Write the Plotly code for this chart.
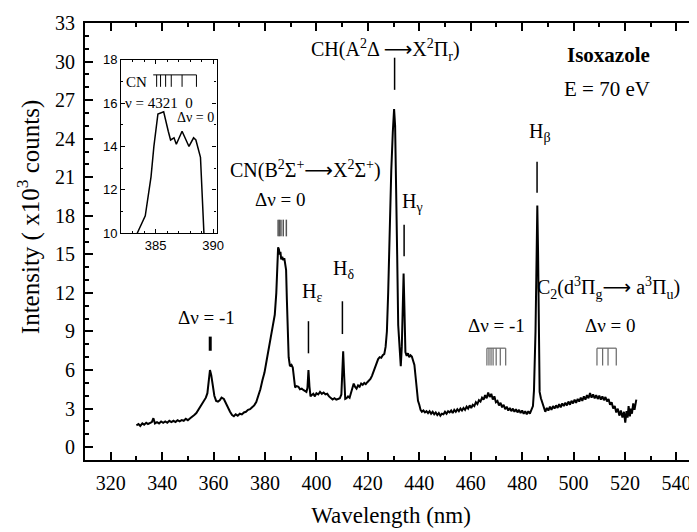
import plotly.graph_objects as go

# ---------------- data ----------------
wavelength = [
    330.0, 330.8, 331.5, 332.3, 333.0, 333.8, 334.5, 335.3, 336.0, 336.6, 337.2, 338.0, 338.8, 339.6,
    340.4, 341.2, 342.0, 342.8, 343.6, 344.4, 345.2, 346.0, 346.8, 347.6, 348.4, 349.2, 350.0, 350.9,
    351.7, 352.5, 353.3, 354.1, 354.9, 355.6, 356.3, 357.0, 357.6, 358.1, 358.6, 359.1, 359.7, 360.3,
    361.0, 361.7, 362.4, 363.1, 364.0, 364.8, 365.6, 366.4, 367.2, 367.9, 368.6, 369.4, 370.2, 371.0,
    371.8, 372.6, 373.4, 374.2, 375.0, 375.8, 376.6, 377.4, 378.2, 379.0, 379.8, 380.6, 381.4, 382.2,
    383.0, 383.8, 384.4, 384.8, 385.1, 385.4, 385.7, 386.0, 386.3, 386.7, 387.1, 387.5, 387.9, 388.2,
    388.5, 388.8, 389.2, 389.7, 390.3, 390.8, 391.3, 391.7, 392.3, 393.0, 393.6, 394.3, 394.9, 395.5,
    396.1, 396.5, 396.9, 397.3, 397.7, 398.2, 398.8, 399.4, 400.0, 400.7, 401.4, 402.1, 402.8, 403.5,
    404.2, 404.9, 405.6, 406.3, 407.0, 407.7, 408.4, 409.1, 409.7, 410.1, 410.4, 410.8, 411.2, 411.7,
    412.3, 412.9, 413.5, 414.0, 414.5, 415.0, 415.6, 416.2, 416.8, 417.4, 418.0, 418.6, 419.2, 419.8,
    420.4, 421.0, 421.6, 422.2, 422.8, 423.4, 424.0, 424.6, 425.2, 425.8, 426.4, 426.9, 427.4, 427.9,
    428.5, 429.1, 429.7, 430.2, 430.6, 431.0, 431.4, 431.8, 432.3, 432.8, 433.2, 433.6, 433.9, 434.2,
    434.6, 435.1, 435.6, 436.1, 436.6, 437.1, 437.6, 438.1, 438.6, 439.0, 439.5, 440.0, 440.5, 441.0,
    441.6, 442.2, 442.8, 443.4, 444.0, 444.6, 445.2, 445.8, 446.4, 447.0, 447.6, 448.2, 448.8, 449.4,
    450.0, 450.6, 451.2, 451.8, 452.4, 453.0, 453.6, 454.2, 454.8, 455.4, 456.0, 456.6, 457.2, 457.8,
    458.4, 459.0, 459.6, 460.2, 460.8, 461.4, 462.0, 462.6, 463.2, 463.8, 464.4, 465.0, 465.6, 466.2,
    466.8, 467.4, 468.0, 468.6, 469.2, 469.8, 470.4, 471.0, 471.6, 472.2, 472.8, 473.4, 474.0, 474.6,
    475.2, 475.8, 476.4, 477.0, 477.6, 478.2, 478.8, 479.4, 480.0, 480.6, 481.2, 481.8, 482.4, 483.0,
    483.6, 484.2, 484.6, 485.2, 485.6, 485.9, 486.2, 486.5, 486.8, 487.3, 487.9, 488.5, 489.0, 489.6,
    490.2, 490.8, 491.4, 492.0, 492.6, 493.2, 493.8, 494.4, 495.0, 495.6, 496.2, 496.8, 497.4, 498.0,
    498.6, 499.2, 499.8, 500.4, 501.0, 501.6, 502.2, 502.8, 503.4, 504.0, 504.6, 505.2, 505.8, 506.4,
    507.0, 507.6, 508.2, 508.8, 509.4, 510.0, 510.6, 511.2, 511.8, 512.4, 513.0, 513.6, 514.2, 514.8,
    515.4, 516.0, 516.6, 517.2, 517.8, 518.4, 519.0, 519.6, 520.1, 520.6, 521.0, 521.4, 521.9, 522.3,
    522.7, 523.2, 523.7, 524.4,
]
intensity = [
    1.70, 1.80, 1.65, 1.85, 1.75, 1.90, 1.80, 1.85, 1.95, 2.25, 1.85, 1.95, 1.85, 2.00,
    1.90, 2.00, 1.90, 2.05, 1.95, 2.05, 1.95, 2.10, 2.00, 2.10, 2.05, 2.20, 2.10, 2.25,
    2.35, 2.50, 2.65, 2.90, 3.20, 3.45, 3.60, 3.85, 4.20, 5.20, 6.00, 5.60, 4.60, 4.00,
    3.60, 3.55, 3.65, 3.85, 3.75, 3.40, 3.00, 2.75, 2.50, 2.40, 2.55, 2.45, 2.60, 2.55,
    2.70, 2.75, 2.90, 2.95, 3.10, 3.25, 3.50, 3.95, 4.50, 5.20, 5.80, 6.70, 7.50, 8.50,
    9.40, 10.30, 12.00, 14.00, 15.55, 15.40, 15.00, 15.20, 14.60, 14.80, 14.55, 14.70, 14.30, 13.80,
    11.50, 8.50, 7.00, 6.30, 6.40, 6.20, 5.20, 4.65, 4.75, 4.70, 4.50, 4.55, 4.45, 4.40,
    4.30, 4.60, 6.00, 4.70, 3.95, 4.05, 4.15, 3.95, 4.20, 4.10, 4.30, 4.15, 4.25, 4.10,
    4.15, 3.95, 3.85, 3.70, 3.80, 3.70, 3.75, 3.80, 4.10, 6.20, 7.45, 5.50, 3.75, 3.80,
    3.95, 3.85, 4.20, 4.60, 4.95, 4.70, 4.55, 4.80, 4.70, 4.95, 4.85, 5.00, 4.90, 5.05,
    5.15, 5.30, 5.55, 5.85, 6.20, 6.60, 6.85, 7.00, 6.95, 7.15, 7.25, 7.80, 9.00, 12.00,
    17.00, 21.50, 24.50, 26.30, 25.00, 21.00, 15.00, 9.50, 7.30, 6.30, 7.80, 11.50, 13.50, 11.00,
    7.40, 7.10, 7.30, 7.00, 7.15, 7.05, 6.80, 6.40, 5.40, 4.30, 3.60, 3.30, 2.90, 2.75,
    2.85, 2.70, 2.80, 2.65, 2.80, 2.60, 2.75, 2.55, 2.70, 2.50, 2.65, 2.45, 2.60, 2.55,
    2.75, 2.60, 2.80, 2.70, 2.85, 2.65, 2.90, 2.75, 2.95, 2.80, 3.00, 2.85, 3.05, 2.90,
    3.15, 3.00, 3.25, 3.05, 3.30, 3.20, 3.50, 3.35, 3.65, 3.55, 3.85, 3.70, 4.05, 3.80,
    4.25, 3.90, 4.15, 3.70, 3.95, 3.50, 3.60, 3.25, 3.45, 3.10, 3.30, 2.95, 3.15, 2.85,
    3.05, 2.80, 3.00, 2.75, 2.95, 2.70, 2.90, 2.65, 2.85, 2.60, 2.80, 2.55, 2.80, 2.60,
    2.90, 3.20, 4.40, 9.00, 14.50, 18.80, 15.00, 8.00, 4.30, 3.80, 3.40, 3.10, 2.75, 3.05,
    2.85, 3.15, 2.90, 3.20, 3.00, 3.25, 3.05, 3.35, 3.10, 3.40, 3.20, 3.45, 3.25, 3.55,
    3.30, 3.60, 3.40, 3.70, 3.45, 3.75, 3.55, 3.85, 3.60, 3.95, 3.70, 4.05, 3.80, 4.20,
    3.85, 4.10, 3.80, 4.05, 3.75, 4.00, 3.70, 3.95, 3.65, 3.90, 3.55, 3.75, 3.30, 3.50,
    3.00, 3.20, 2.70, 3.00, 2.45, 2.85, 2.30, 2.75, 1.90, 2.80, 2.30, 3.20, 2.40, 3.00,
    2.60, 3.40, 2.90, 3.70,
]

# inset (zoom on CN Δν = 0 band)
inset_wavelength = [383.4, 384.1, 384.6, 384.85, 385.2, 385.7, 386.1, 386.3, 386.6, 386.8,
                    387.3, 387.9, 388.3, 388.5, 388.9, 389.2]
inset_intensity = [10.0, 10.8, 12.6, 14.0, 15.5, 15.6, 14.7, 14.3, 14.4, 14.1,
                   14.7, 14.0, 14.4, 14.3, 13.5, 10.0]
inset_bandheads = [385.09, 385.43, 385.87, 386.36, 387.3, 388.55]

# axis ticks
x_ticks = [320, 340, 360, 380, 400, 420, 440, 460, 480, 500, 520, 540]
y_ticks = [0, 3, 6, 9, 12, 15, 18, 21, 24, 27, 30, 33]
inset_x_ticks = [385, 390]
inset_y_ticks = [10, 12, 14, 16, 18]

# line markers for assigned emissions: (wavelength, y_low, y_high, width)
line_markers = [
    (358.7, 7.5, 8.6, 3),     # CN Δν=-1
    (396.9, 7.3, 9.8, 1.5),   # Hε
    (410.1, 8.8, 11.35, 1.5), # Hδ
    (430.4, 27.8, 30.3, 1.5), # CH
    (434.1, 14.85, 17.3, 1.5),# Hγ
    (485.8, 19.8, 22.2, 1.5), # Hβ
]
cn_band_comb = [385.1, 385.6, 386.2, 387.1, 388.3]
c2_m1_comb = [466.3, 467.1, 467.9, 468.7, 469.9, 471.5, 473.6]
c2_0_comb = [509.1, 511.3, 513.4, 516.6]

SERIF = "Liberation Serif"
SANS = "Liberation Sans"
ARROW = '<span style="font-family:DejaVu Sans">⟶</span>'

fig = go.Figure()
fig.add_trace(go.Scatter(x=wavelength, y=intensity, mode="lines",
                         line=dict(color="black", width=2), showlegend=False))
fig.add_trace(go.Scatter(x=inset_wavelength, y=inset_intensity, mode="lines",
                         line=dict(color="black", width=1.5), showlegend=False,
                         xaxis="x2", yaxis="y2"))

shapes = []
for wl, y0, y1, w in line_markers:
    shapes.append(dict(type="line", xref="x", yref="y", x0=wl, x1=wl, y0=y0, y1=y1,
                       line=dict(color="black", width=w)))
for wl in cn_band_comb:
    shapes.append(dict(type="line", xref="x", yref="y", x0=wl, x1=wl, y0=16.4, y1=17.7,
                       line=dict(color="#555555", width=1.5)))
for comb in (c2_m1_comb, c2_0_comb):
    for wl in comb:
        shapes.append(dict(type="line", xref="x", yref="y", x0=wl, x1=wl, y0=6.35, y1=7.7,
                           line=dict(color="#666666", width=1.2)))
    shapes.append(dict(type="line", xref="x", yref="y", x0=comb[0], x1=comb[-1], y0=7.7, y1=7.7,
                       line=dict(color="#666666", width=1.2)))
for wl in inset_bandheads:
    shapes.append(dict(type="line", xref="x2", yref="y2", x0=wl, x1=wl, y0=16.75, y1=17.3,
                       line=dict(color="black", width=1)))
shapes.append(dict(type="line", xref="x2", yref="y2", x0=inset_bandheads[0] - 0.3,
                   x1=inset_bandheads[-1], y0=17.3, y1=17.3, line=dict(color="black", width=1)))

def ann(x, y, text, size=20, bold=False, xref="x", yref="y", font=SERIF, xanchor="center"):
    if bold:
        text = "<b>" + text + "</b>"
    return dict(x=x, y=y, xref=xref, yref=yref, text=text, showarrow=False,
                xanchor=xanchor, yanchor="middle",
                font=dict(family=font, size=size, color="black"))

annotations = [
    ann(357.4, 10.1, "Δν = -1", 19),
    ann(395.8, 21.6, "CN(B<sup>2</sup>Σ<sup>+</sup>" + ARROW + "X<sup>2</sup>Σ<sup>+</sup>)", 20),
    ann(385.9, 19.3, "Δν = 0", 19),
    ann(398.2, 12.0, "H<sub>ε</sub>", 20),
    ann(410.5, 13.8, "H<sub>δ</sub>", 20),
    ann(426.8, 30.9, "CH(A<sup>2</sup>Δ " + ARROW + "X<sup>2</sup>Π<sub>r</sub>)", 20),
    ann(437.3, 19.0, "H<sub>γ</sub>", 20),
    ann(513.6, 30.5, "Isoxazole", 21, bold=True),
    ann(513.0, 27.9, "E = 70 eV", 21),
    ann(486.9, 24.5, "H<sub>β</sub>", 20),
    ann(513.6, 12.4, "C<sub>2</sub>(d<sup>3</sup>Π<sub>g</sub>" + ARROW + " a<sup>3</sup>Π<sub>u</sub>)", 20),
    ann(469.9, 9.46, "Δν = -1", 19),
    ann(514.3, 9.46, "Δν = 0", 19),
    ann(383.3, 16.95, "CN", 15, xref="x2", yref="y2"),
    ann(382.2, 16.0, "ν = 4321  0", 15, xref="x2", yref="y2", xanchor="left"),
    ann(388.5, 15.35, "Δν = 0", 14, xref="x2", yref="y2"),
]
# y-axis title placed as a rotated annotation (sits above the axis centre in the reference)
annotations.append(dict(x=-0.092, y=0.555, xref="paper", yref="paper",
                        text="Intensity ( x10<sup>3</sup> counts)", textangle=-90,
                        showarrow=False, xanchor="center", yanchor="middle",
                        font=dict(family=SERIF, size=25, color="black")))

axis_common = dict(showline=True, linecolor="black", linewidth=2, mirror="ticks",
                   ticks="inside", tickcolor="black", tickwidth=1.5, ticklen=8,
                   showgrid=False, zeroline=False, automargin=False)

# the page body adds an 8 px offset, so the figure is 8 px smaller on each side
fig.update_layout(
    width=689, height=524,
    margin=dict(l=77, r=0, t=15, b=72),
    paper_bgcolor="white", plot_bgcolor="white",
    shapes=shapes, annotations=annotations,
    xaxis=dict(**axis_common, range=[310, 548], tickvals=x_ticks,
               minor=dict(dtick=10, tick0=310, ticks="inside", ticklen=4, tickcolor="black", tickwidth=1.5),
               tickfont=dict(family=SERIF, size=20, color="black"),
               ticklabelstandoff=4,
               title=dict(text="Wavelength (nm)", font=dict(family=SERIF, size=23, color="black"),
                          standoff=14)),
    yaxis=dict(**axis_common, range=[-1, 33], tickvals=y_ticks,
               minor=dict(dtick=1, tick0=0, ticks="inside", ticklen=4, tickcolor="black", tickwidth=1.5),
               tickfont=dict(family=SERIF, size=20, color="black"),
               ticklabelstandoff=4),
    xaxis2=dict(domain=[0.059, 0.215], anchor="y2", range=[382, 390.3], tickvals=inset_x_ticks,
                showline=True, linecolor="black", linewidth=1.2, mirror="ticks",
                ticks="inside", ticklen=4, tickcolor="black", tickwidth=1,
                minor=dict(dtick=1, ticks="inside", ticklen=2, tickcolor="black"),
                showgrid=False, zeroline=False, automargin=False,
                tickfont=dict(family=SANS, size=13, color="black")),
    yaxis2=dict(domain=[0.519, 0.916], anchor="x2", range=[10, 18], tickvals=inset_y_ticks,
                showline=True, linecolor="black", linewidth=1.2, mirror="ticks",
                ticks="inside", ticklen=4, tickcolor="black", tickwidth=1,
                minor=dict(dtick=1, ticks="inside", ticklen=2, tickcolor="black"),
                showgrid=False, zeroline=False, automargin=False,
                tickfont=dict(family=SANS, size=13, color="black")),
)

fig.write_html("out.html")
